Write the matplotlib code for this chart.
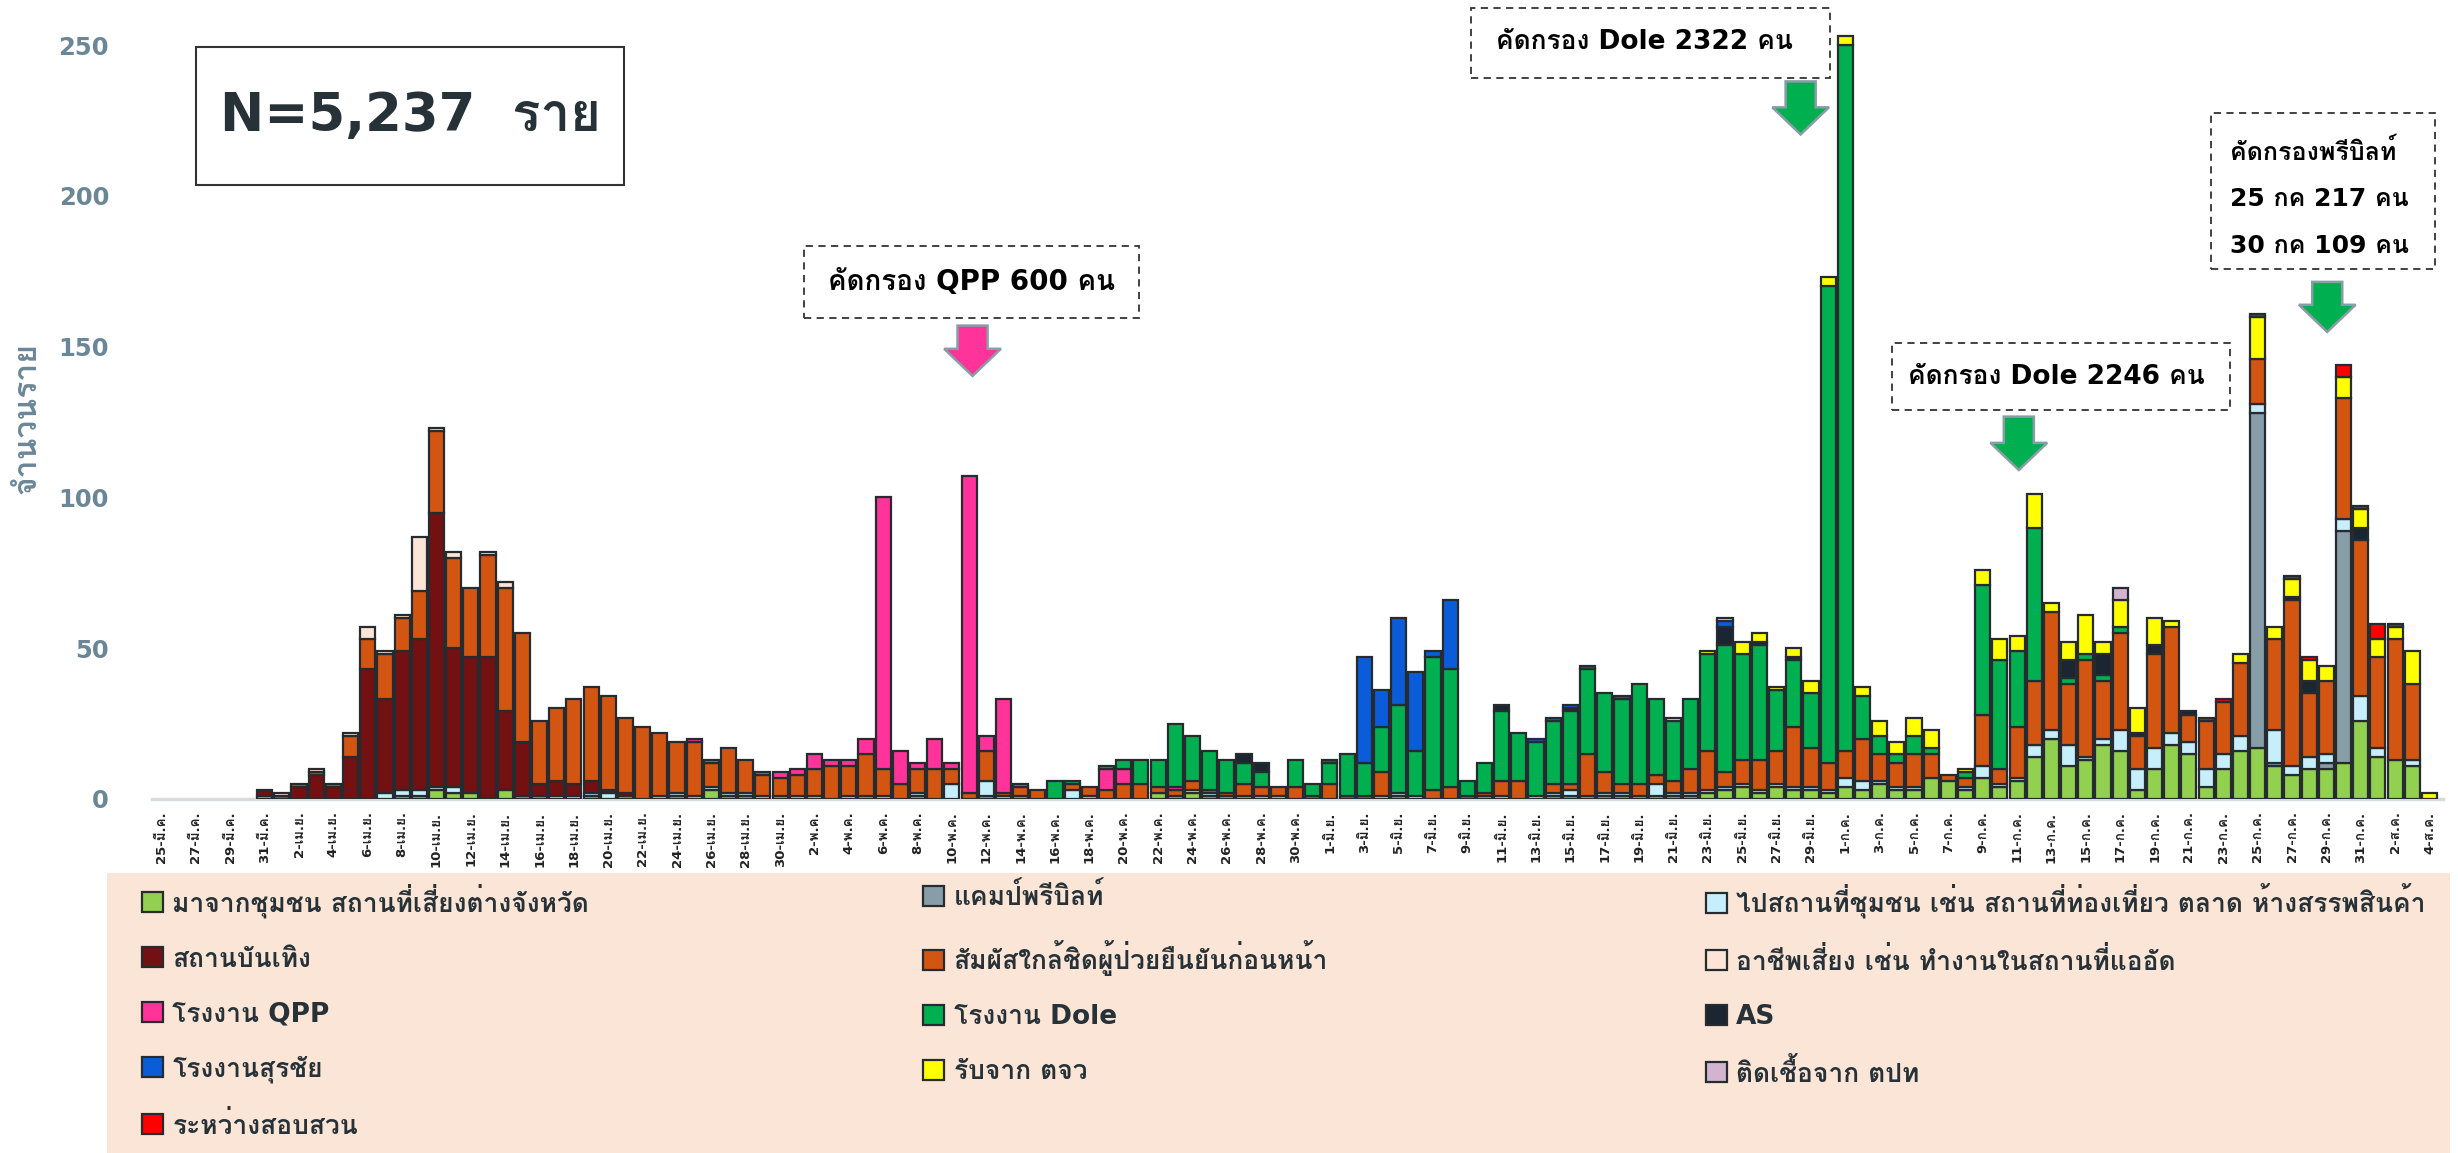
import matplotlib
matplotlib.use('Agg')
import matplotlib.pyplot as plt
from matplotlib import font_manager
from matplotlib.patches import Rectangle, FancyArrow
import numpy as np
import pandas as pd


def find_thai_font():
    """Return the name of an installed family with Thai glyphs (bold face preferred)."""
    try:
        from fontTools.ttLib import TTFont
    except ImportError:
        return None
    weights = {}
    for fe in font_manager.fontManager.ttflist:
        try:
            cmap = TTFont(fe.fname, fontNumber=0, lazy=True).getBestCmap()
        except Exception:
            continue
        if cmap and 0x0E01 in cmap:
            w = fe.weight
            if not isinstance(w, (int, float)):
                w = font_manager.weight_dict.get(str(w), 400)
            weights.setdefault(fe.name, []).append(w)
    if not weights:
        return None
    prefs = ['Noto Sans Thai', 'Noto Sans Thai UI', 'Loma', 'Garuda', 'Tahoma',
             'Noto Sans Thai Looped']
    bold = [n for n, ws in weights.items() if max(ws) >= 600]
    for pool in (bold, list(weights)):
        for p in prefs:
            if p in pool:
                return p
        if pool:
            return sorted(pool)[0]
    return None


THAI = find_thai_font()
plt.rcParams['font.family'] = ['DejaVu Sans', THAI] if THAI else ['DejaVu Sans']

# ─── data: daily cases 25 Mar – 4 Aug, one list per cause ────────────
START, END = '2021-03-25', '2021-08-04'
thai_month = {3: 'มี.ค.', 4: 'เม.ย.', 5: 'พ.ค.', 6: 'มิ.ย.', 7: 'ก.ค.', 8: 'ส.ค.'}

community = ([0, 0, 0, 0, 0, 0, 1]
             + [0, 0, 0, 0, 0, 0, 0, 1, 1, 3, 2, 2, 0, 3, 1, 1, 0, 0, 1, 0,
                1, 0, 0, 1, 0, 3, 1, 1, 0, 1]
             + [0, 0, 0, 0, 1, 0, 0, 1, 0, 0, 0, 1, 0, 1, 0, 0, 0, 0, 0, 0,
                0, 2, 1, 2, 1, 1, 1, 0, 0, 0, 0]
             + [0, 0, 0, 0, 1, 0, 0, 0, 0, 1, 0, 0, 0, 1, 1, 1, 1, 1, 1, 1,
                1, 1, 2, 3, 4, 2, 4, 3, 3, 2]
             + [4, 3, 5, 3, 3, 7, 6, 3, 7, 4, 6, 14, 20, 11, 13, 18, 16, 3, 10, 18,
                15, 4, 10, 16, 17, 11, 8, 10, 10, 12, 26]
             + [14, 13, 11, 0])
prebuilt = ([0] * 7 + [0] * 30 + [0] * 31 + [0] * 30
            + [0, 0, 0, 0, 0, 0, 0, 0, 0, 0, 0, 0, 0, 0, 0, 0, 0, 0, 0, 0,
               0, 0, 0, 0, 111, 1, 0, 0, 2, 77, 0]
            + [0, 0, 0, 0])
visit = ([0] * 7
         + [0, 0, 0, 0, 0, 0, 2, 2, 2, 1, 2, 0, 0, 0, 0, 0, 1, 1, 1, 2,
            0, 0, 1, 1, 1, 1, 1, 1, 1, 0]
         + [1, 1, 0, 1, 0, 1, 0, 1, 0, 5, 0, 5, 1, 0, 0, 0, 3, 1, 0, 0,
            0, 0, 0, 1, 1, 0, 0, 1, 1, 0, 0]
         + [0, 0, 0, 1, 1, 1, 0, 0, 0, 0, 1, 0, 1, 1, 2, 0, 1, 1, 0, 4,
            1, 1, 1, 1, 1, 1, 1, 1, 1, 1]
         + [3, 3, 1, 1, 1, 0, 0, 1, 4, 1, 1, 4, 3, 7, 1, 2, 7, 7, 7, 4,
            4, 6, 5, 5, 3, 11, 3, 4, 3, 4, 8]
         + [3, 0, 2, 0])
nightlife = ([0, 0, 0, 0, 0, 0, 2]
             + [0, 4, 8, 4, 14, 43, 31, 46, 50, 91, 46, 45, 47, 26, 18, 4, 5, 4, 4, 1,
                1, 0, 0, 0, 0, 0, 0, 0, 0, 0]
             + [0] * 31 + [0] * 30 + [0] * 31 + [0] * 4)
contact = ([0] * 7
           + [1, 1, 1, 1, 7, 10, 15, 11, 16, 27, 30, 23, 34, 41, 36, 21, 24, 28, 31, 31,
              25, 24, 21, 17, 18, 8, 15, 11, 7, 6]
           + [7, 9, 11, 10, 14, 9, 5, 8, 10, 5, 2, 10, 1, 3, 3, 0, 2, 3, 3, 5,
              5, 2, 2, 3, 1, 1, 4, 3, 3, 4, 1]
           + [5, 1, 1, 8, 0, 0, 3, 4, 1, 1, 5, 6, 0, 3, 2, 14, 7, 3, 4, 3,
              4, 8, 13, 5, 8, 10, 11, 20, 13, 9]
           + [9, 14, 9, 8, 11, 8, 2, 3, 17, 5, 17, 21, 39, 20, 32, 19, 32, 11, 31, 35,
              9, 16, 17, 24, 15, 30, 55, 21, 24, 40, 52]
           + [30, 40, 25, 0])
risky_job = ([0] * 7
             + [1, 0, 1, 0, 1, 4, 1, 1, 18, 1, 2, 0, 1, 2, 0, 0, 0, 0, 0, 0,
                0, 0, 0, 0, 0, 0, 0, 0, 0, 0]
             + [0] * 31 + [0] * 30 + [0] * 31 + [0] * 4)
qpp = ([0] * 7
       + [0, 0, 0, 0, 0, 0, 0, 0, 0, 0, 0, 0, 0, 0, 0, 0, 0, 0, 0, 0,
          0, 0, 0, 0, 1, 1, 0, 0, 1, 2]
       + [2, 5, 2, 2, 5, 90, 11, 2, 10, 2, 105, 5, 31, 1, 0, 0, 0, 0, 7, 5,
          0, 0, 1, 0, 0, 0, 0, 0, 0, 0, 0]
       + [0] * 30 + [0] * 31 + [0] * 4)
dole = ([0] * 7 + [0] * 30
        + [0, 0, 0, 0, 0, 0, 0, 0, 0, 0, 0, 0, 0, 0, 0, 6, 1, 0, 1, 3,
           8, 9, 21, 15, 13, 11, 7, 5, 0, 9, 4]
        + [7, 14, 11, 15, 29, 15, 44, 39, 5, 10, 23, 16, 18, 21, 24, 28, 26, 28, 33, 25,
           20, 23, 32, 42, 35, 38, 20, 22, 18, 158]
        + [234, 14, 6, 3, 6, 2, 0, 2, 43, 36, 25, 51, 0, 2, 2, 2, 2, 0, 0, 0,
           0, 0, 0, 0, 0, 0, 0, 0, 0, 0, 0]
        + [0] * 4)
as_cases = ([0] * 7 + [0] * 30
            + [0, 0, 0, 0, 0, 0, 0, 0, 0, 0, 0, 0, 0, 0, 0, 0, 0, 0, 0, 0,
               0, 0, 0, 0, 0, 0, 3, 3, 0, 0, 0]
            + [0, 0, 0, 0, 0, 0, 0, 0, 0, 0, 2, 0, 0, 0, 1, 0, 0, 0, 0, 0,
               0, 0, 0, 6, 0, 1, 0, 1, 0, 0]
            + [0, 0, 0, 0, 0, 0, 0, 0, 0, 0, 0, 0, 0, 6, 0, 7, 0, 1, 3, 0,
               1, 0, 0, 0, 0, 0, 1, 4, 0, 0, 4]
            + [0] * 4)
surachai = ([0] * 7 + [0] * 30 + [0] * 31
            + [1, 0, 35, 12, 29, 26, 2, 23, 0, 0, 0, 0, 1, 1, 1, 1, 0, 1, 0, 0,
               0, 0, 0, 2, 0, 0, 0, 0, 0, 0]
            + [0] * 31 + [0] * 4)
upcountry = ([0] * 7 + [0] * 30 + [0] * 31
             + [0, 0, 0, 0, 0, 0, 0, 0, 0, 0, 0, 0, 0, 0, 0, 0, 0, 0, 0, 0,
                1, 0, 1, 1, 4, 3, 1, 3, 4, 3]
             + [3, 3, 5, 4, 6, 6, 0, 1, 5, 7, 5, 11, 3, 6, 13, 4, 9, 8, 9, 2,
                0, 0, 0, 3, 14, 4, 6, 7, 5, 7, 6]
             + [6, 4, 11, 2])
abroad = ([0] * 7 + [0] * 30 + [0] * 31 + [0] * 30
          + [0, 0, 0, 0, 0, 0, 0, 0, 0, 0, 0, 0, 0, 0, 0, 0, 4, 0, 0, 0,
             0, 0, 0, 0, 0, 0, 0, 0, 0, 0, 0]
          + [0] * 4)
pending = ([0] * 7 + [0] * 30 + [0] * 31 + [0] * 30
           + [0, 0, 0, 0, 0, 0, 0, 0, 0, 0, 0, 0, 0, 0, 0, 0, 0, 0, 0, 0,
              0, 1, 1, 0, 1, 0, 1, 1, 0, 4, 1]
           + [5, 1, 0, 0])

series = [
    ('มาจากชุมชน สถานที่เสี่ยงต่างจังหวัด', community, '#92D050'),
    ('แคมป์พรีบิลท์', prebuilt, '#879EA9'),
    ('ไปสถานที่ชุมชน เช่น สถานที่ท่องเที่ยว ตลาด ห้างสรรพสินค้า', visit, '#C6EEFB'),
    ('สถานบันเทิง', nightlife, '#731012'),
    ('สัมผัสใกล้ชิดผู้ป่วยยืนยันก่อนหน้า', contact, '#D35512'),
    ('อาชีพเสี่ยง เช่น ทำงานในสถานที่แออัด', risky_job, '#FCE4D6'),
    ('โรงงาน QPP', qpp, '#FF3399'),
    ('โรงงาน Dole', dole, '#00B050'),
    ('AS', as_cases, '#1B2631'),
    ('โรงงานสุรชัย', surachai, '#0B5CD8'),
    ('รับจาก ตจว', upcountry, '#FFFF00'),
    ('ติดเชื้อจาก ตปท', abroad, '#D2B4D0'),
    ('ระหว่างสอบสวน', pending, '#FF0000'),
]

days = pd.date_range(START, END, freq='D')
tick_labels = [f'{d.day}-{thai_month[d.month]}' for d in days]

AXIS_BLUE = '#6B8797'
EDGE = '#262B30'
DARK_TXT = '#263238'

fig = plt.figure(figsize=(24.58, 11.53), dpi=100)
ax = fig.add_axes([0.0619, 0.3071, 0.9318, 0.6929])

x = np.arange(len(days))
bottom = np.zeros(len(days))
handles = []
for name, vals, color in series:
    v = np.asarray(vals, dtype=float)
    m = v > 0
    bars = ax.bar(x[m], v[m], width=0.88, bottom=bottom[m], color=color,
                  edgecolor=EDGE, linewidth=1.6, label=name, zorder=3)
    handles.append(bars)
    bottom += v

ax.set_xlim(-0.55, 132.76)
ax.set_ylim(0, 265)
ax.set_yticks([0, 50, 100, 150, 200, 250])
ax.tick_params(axis='y', length=0, pad=31, labelsize=17.5, labelcolor=AXIS_BLUE)
for t in ax.get_yticklabels():
    t.set_fontweight('bold')
ax.set_xticks(x[::2])
ax.set_xticklabels(tick_labels[::2], rotation=90, fontsize=9.5, fontweight='bold',
                   color='#222222')
ax.tick_params(axis='x', length=0, pad=9)
for s in ('top', 'right', 'left'):
    ax.spines[s].set_visible(False)
ax.spines['bottom'].set_color('#D5DBDF')
ax.spines['bottom'].set_linewidth(2.5)
fig.text(17 / 1568, 1 - 267 / 736, 'จำนวนราย', rotation=90, ha='center', va='center',
         fontsize=23, fontweight='bold', color=AXIS_BLUE)

# ─── annotation boxes ────────────────────────────────────────────────
ax.add_patch(Rectangle((2.0, 203.7), 24.9, 45.8, fill=False, ec='#333333',
                       lw=1.5, clip_on=False, zorder=5))
ax.text(14.5, 226.6, 'N=5,237  ราย', ha='center', va='center', fontsize=38,
        fontweight='bold', color=DARK_TXT, zorder=6)


def dashed_box(x0, x1, y0, y1):
    ax.add_patch(Rectangle((x0, y0), x1 - x0, y1 - y0, fill=False, ec='#333333',
                           lw=1.3, ls=(0, (4, 3)), clip_on=False, zorder=5))


def down_arrow(xc, ytop, ytip, color):
    ax.add_patch(FancyArrow(xc, ytop, 0, ytip - ytop, width=1.75, head_width=3.3,
                            head_length=9.0, length_includes_head=True, fc=color,
                            ec='#8A9CA5', lw=1.8, clip_on=False, zorder=5))


dashed_box(37.4, 56.9, 159.6, 183.5)
ax.text(47.15, 171.5, 'คัดกรอง QPP 600 คน', ha='center', va='center',
        fontsize=20, fontweight='bold', zorder=6)
down_arrow(47.2, 157, 140.3, '#FF3399')

dashed_box(76.2, 97.1, 239, 262.5)
ax.text(86.3, 251, 'คัดกรอง Dole 2322 คน', ha='center', va='center',
        fontsize=19, fontweight='bold', zorder=6)
down_arrow(95.4, 238, 220.4, '#00B050')

dashed_box(100.7, 120.4, 128.9, 151.2)
ax.text(110.3, 140, 'คัดกรอง Dole 2246 คน', ha='center', va='center',
        fontsize=19, fontweight='bold', zorder=6)
down_arrow(108.1, 126.8, 109.1, '#00B050')

dashed_box(119.3, 132.3, 175.7, 227.6)
for yy, txt in [(214.7, 'คัดกรองพรีบิลท์'), (199.1, '25 กค 217 คน'), (183.5, '30 กค 109 คน')]:
    ax.text(120.4, yy, txt, ha='left', va='center', fontsize=18,
            fontweight='bold', zorder=6)
down_arrow(126.05, 171.5, 154.9, '#00B050')

# ─── legend on a peach panel ─────────────────────────────────────────
fig.patches.append(Rectangle((68 / 1568, 0), (1563 - 68) / 1568, (736 - 557) / 736,
                             transform=fig.transFigure, facecolor='#FBE5D6',
                             edgecolor='none', zorder=0))
cols = [[0, 3, 6, 9, 12], [1, 4, 7, 10], [2, 5, 8, 11]]
col_x = [90.6 / 1568, 589 / 1568, 1088 / 1568]
for idx, cx in zip(cols, col_x):
    leg = fig.legend([handles[i] for i in idx], [series[i][0] for i in idx],
                     loc='upper left', bbox_to_anchor=(cx, 1 - 564 / 736),
                     frameon=False, handlelength=0.8, handleheight=0.8,
                     handletextpad=0.35, labelspacing=1.08, borderpad=0,
                     borderaxespad=0, prop={'size': 19, 'weight': 'bold'})
    for t in leg.get_texts():
        t.set_color(DARK_TXT)

fig.savefig('out.png', dpi=100)
